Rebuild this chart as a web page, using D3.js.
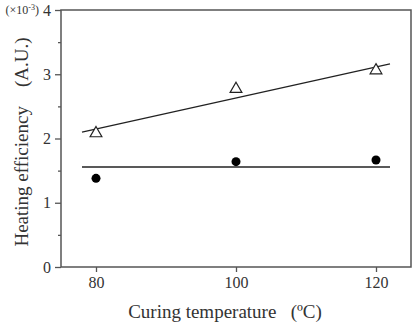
<!DOCTYPE html>
<html>
<head>
<meta charset="utf-8">
<script src="https://cdn.jsdelivr.net/npm/d3@7"></script>
<style>
  body { margin: 0; background: #fff; }
  text { font-family: "Liberation Serif", "Times New Roman", serif; fill: #333; }
</style>
</head>
<body>
<svg id="chart" width="415" height="324"></svg>
<script>
// data
const temps = [80, 100, 120];
const triangleValues = [2.08, 2.77, 3.06];
const circleValues = [1.38, 1.64, 1.665];
const fitX = [78, 122];
const triangleFit = [2.10, 3.16];
const circleFit = [1.555, 1.555];
const xTicks = [80, 100, 120];
const yTicks = [0, 1, 2, 3, 4];
const yMinorTicks = [0.5, 1.5, 2.5, 3.5];

const margin = { top: 10, right: 4, bottom: 57, left: 61 };
const width = 415, height = 324;
const innerWidth = width - margin.left - margin.right;
const innerHeight = height - margin.top - margin.bottom;

const svg = d3.select('#chart');
const g = svg.append('g').attr('transform', `translate(${margin.left},${margin.top})`);

const x = d3.scaleLinear().domain([75, 125]).range([0, innerWidth]);
const y = d3.scaleLinear().domain([0, 4]).range([innerHeight, 0]);

const axisColor = '#555';

// frame
g.append('rect')
  .attr('x', 0).attr('y', 0)
  .attr('width', innerWidth).attr('height', innerHeight)
  .attr('fill', 'none').attr('stroke', axisColor).attr('stroke-width', 1.5);

// x axis
const gx = g.append('g')
  .attr('transform', `translate(0,${innerHeight})`)
  .call(d3.axisBottom(x).tickValues(xTicks).tickFormat(d3.format('d')).tickSize(5).tickPadding(5));
gx.select('.domain').remove();
gx.selectAll('line').attr('stroke', axisColor).attr('stroke-width', 1.3);
gx.selectAll('text').attr('font-size', 16).attr('fill', '#333')
  .style('font-family', '"Liberation Serif", serif');

// y axis
const gy = g.append('g')
  .call(d3.axisLeft(y).tickValues(yTicks).tickFormat(d3.format('d')).tickSize(6).tickPadding(4));
gy.select('.domain').remove();
gy.selectAll('line').attr('stroke', axisColor).attr('stroke-width', 1.3);
gy.selectAll('text').attr('font-size', 16).attr('fill', '#333')
  .style('font-family', '"Liberation Serif", serif');

const gyMinor = g.append('g')
  .call(d3.axisLeft(y).tickValues(yMinorTicks).tickSize(3).tickFormat(''));
gyMinor.select('.domain').remove();
gyMinor.selectAll('line').attr('stroke', axisColor).attr('stroke-width', 1.3);

// exponent label next to "4"
g.append('text')
  .attr('x', -22).attr('y', y(4))
  .attr('dy', '0.32em')
  .attr('text-anchor', 'end')
  .attr('font-size', 12)
  .html('(×10<tspan dy="-4" font-size="8">-3</tspan><tspan dy="4">)</tspan>');

// fit lines
const line = d3.line().x(d => x(d[0])).y(d => y(d[1]));
g.append('path')
  .datum(fitX.map((t, i) => [t, triangleFit[i]]))
  .attr('d', line).attr('fill', 'none').attr('stroke', '#222').attr('stroke-width', 1.3);
g.append('path')
  .datum(fitX.map((t, i) => [t, circleFit[i]]))
  .attr('d', line).attr('fill', 'none').attr('stroke', '#222').attr('stroke-width', 1.5);

// triangles
g.selectAll('path.tri')
  .data(temps.map((t, i) => [t, triangleValues[i]]))
  .enter().append('path')
  .attr('class', 'tri')
  .attr('transform', d => `translate(${x(d[0])},${y(d[1])})`)
  .attr('d', d3.symbol(d3.symbolTriangle, 60))
  .attr('fill', '#fff').attr('stroke', '#222').attr('stroke-width', 1.2);

// circles
g.selectAll('circle.dot')
  .data(temps.map((t, i) => [t, circleValues[i]]))
  .enter().append('circle')
  .attr('class', 'dot')
  .attr('cx', d => x(d[0])).attr('cy', d => y(d[1]))
  .attr('r', 4.5).attr('fill', '#000');

// axis titles
svg.append('text')
  .attr('x', 225).attr('y', 318)
  .attr('text-anchor', 'middle')
  .attr('font-size', 19)
  .attr('xml:space', 'preserve')
  .text('Curing temperature   (ºC)');

svg.append('text')
  .attr('transform', 'translate(28,142) rotate(-90)')
  .attr('text-anchor', 'middle')
  .attr('font-size', 19)
  .attr('xml:space', 'preserve')
  .text('Heating efficiency    (A.U.)');
</script>
</body>
</html>
